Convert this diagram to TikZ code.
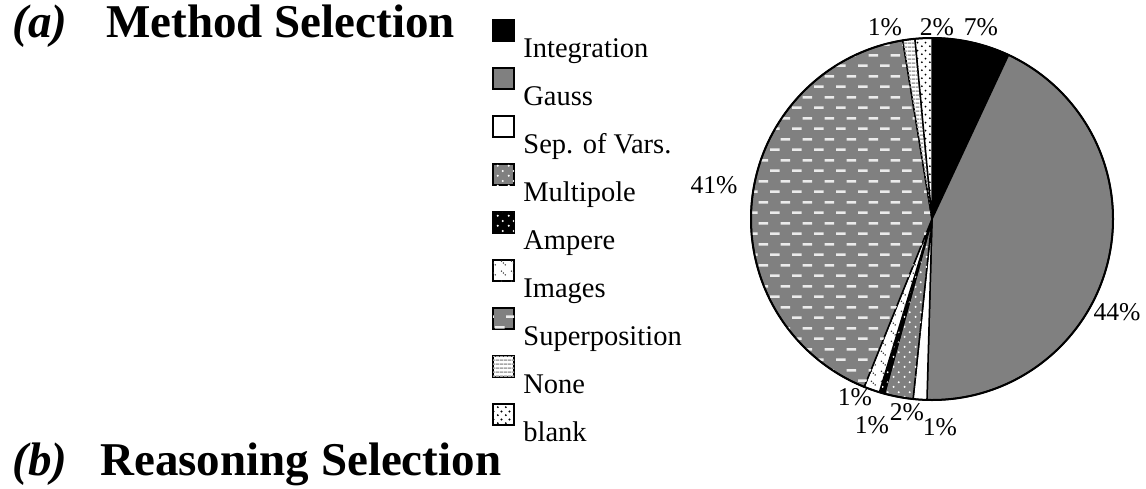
\documentclass[tikz,border=0pt]{standalone}
\usepackage{fontspec}
\setmainfont{Liberation Serif}
\usetikzlibrary{patterns}

\definecolor{midgray}{gray}{0.5}

% fill patterns of the chart
\pgfdeclarepatternformonly{dashrows}{\pgfqpoint{0pt}{0pt}}{\pgfqpoint{11pt}{10.7pt}}{\pgfqpoint{11pt}{10.7pt}}{
  \pgfpathrectangle{\pgfqpoint{0pt}{0pt}}{\pgfqpoint{5pt}{1.3pt}}
  \pgfpathrectangle{\pgfqpoint{5.5pt}{5.35pt}}{\pgfqpoint{5pt}{1.3pt}}
  \pgfusepath{fill}}
\pgfdeclarepatternformonly{sparsedots}{\pgfqpoint{0pt}{0pt}}{\pgfqpoint{5.5pt}{5pt}}{\pgfqpoint{5.5pt}{5pt}}{
  \pgfpathcircle{\pgfqpoint{1.4pt}{1.2pt}}{0.6pt}
  \pgfpathcircle{\pgfqpoint{4.1pt}{3.7pt}}{0.6pt}
  \pgfusepath{fill}}
\pgfdeclarepatternformonly{finedots}{\pgfqpoint{0pt}{0pt}}{\pgfqpoint{4pt}{4pt}}{\pgfqpoint{4pt}{4pt}}{
  \pgfpathcircle{\pgfqpoint{1pt}{1pt}}{0.55pt}
  \pgfpathcircle{\pgfqpoint{3pt}{3pt}}{0.55pt}
  \pgfusepath{fill}}
\pgfdeclarepatternformonly{diagdots}{\pgfqpoint{0pt}{0pt}}{\pgfqpoint{5pt}{5pt}}{\pgfqpoint{5pt}{5pt}}{
  \pgfpathcircle{\pgfqpoint{0.8pt}{4.2pt}}{0.45pt}
  \pgfpathcircle{\pgfqpoint{1.8pt}{3.2pt}}{0.45pt}
  \pgfpathcircle{\pgfqpoint{2.8pt}{2.2pt}}{0.45pt}
  \pgfusepath{fill}}
\pgfdeclarepatternformonly{hstripes}{\pgfqpoint{0pt}{0pt}}{\pgfqpoint{2pt}{2pt}}{\pgfqpoint{2pt}{2pt}}{
  \pgfpathrectangle{\pgfqpoint{0pt}{0pt}}{\pgfqpoint{2pt}{1pt}}
  \pgfusepath{fill}}

\tikzset{
  title/.style={anchor=base west, inner sep=0pt, font=\fontsize{23.5}{28}\selectfont\bfseries},
  legtext/.style={anchor=base west, inner sep=0pt, font=\fontsize{14.25}{17}\selectfont},
  legbox/.style={draw, line width=0.75pt, minimum size=10.5pt, inner sep=0pt},
  pct/.style={anchor=base, inner sep=0pt, font=\fontsize{12.8}{15}\selectfont},
  wedge/.style={draw, line width=0.75pt},
  sInt/.style={fill=black},
  sGauss/.style={fill=midgray},
  sSep/.style={fill=white},
  sMulti/.style={fill=midgray, postaction={pattern=sparsedots, pattern color=white}},
  sAmpere/.style={fill=black, postaction={pattern=sparsedots, pattern color=white}},
  sImages/.style={fill=white, postaction={pattern=diagdots, pattern color=black!80}},
  sSuper/.style={fill=midgray, postaction={pattern=dashrows, pattern color=white!92!black}},
  sNone/.style={fill=white, postaction={pattern=hstripes, pattern color=midgray!70}},
  sBlank/.style={fill=white, postaction={pattern=finedots, pattern color=black}},
}

\begin{document}
\begin{tikzpicture}[x=0.5pt, y=-0.5pt]
  \useasboundingbox (0,0) rectangle (1146,488);

  % titles
  \node[title] (ta) at (12, 37) {\itshape (a)};
  \node[title] (ma) at (106, 37) {Method Selection};
  \node[title] (tb) at (12, 475) {\itshape (b)};
  \node[title] (mb) at (100, 475) {Reasoning Selection};

  % legend
  \node[legbox, sInt]     (kInt)     at (503.5, 30.5) {};
  \node[legbox, sGauss]   (kGauss)   at (503.5, 78.5) {};
  \node[legbox, sSep]     (kSep)     at (503.5, 126.5) {};
  \node[legbox, sMulti]   (kMulti)   at (503.5, 174.5) {};
  \node[legbox, sAmpere]  (kAmpere)  at (503.5, 222.5) {};
  \node[legbox, sImages]  (kImages)  at (503.5, 270.5) {};
  \node[legbox, sSuper]   (kSuper)   at (503.5, 318.5) {};
  \node[legbox, sNone]    (kNone)    at (503.5, 366.5) {};
  \node[legbox, sBlank]   (kBlank)   at (503.5, 414.5) {};

  \node[legtext] (tInt)    at (523, 57)  {Integration};
  \node[legtext] (tGauss)  at (523, 105) {Gauss};
  \node[legtext] (tSep)    at (523, 153) {Sep. of Vars.};
  \node[legtext] (tMulti)  at (523, 201) {Multipole};
  \node[legtext] (tAmpere) at (523, 249) {Ampere};
  \node[legtext] (tImages) at (523, 297) {Images};
  \node[legtext] (tSuper)  at (523, 345) {Superposition};
  \node[legtext] (tNone)   at (523, 393) {None};
  \node[legtext] (tBlank)  at (523, 441) {blank};

  % pie
  \coordinate (pc) at (932, 219);
  \draw[wedge, sInt]    (pc) -- ++(-90:181) arc[start angle=-90, end angle=-65, radius=181] -- cycle;
  \draw[wedge, sGauss]  (pc) -- ++(-65:181) arc[start angle=-65, end angle=91.6, radius=181] -- cycle;
  \draw[wedge, sSep]    (pc) -- ++(91.6:181) arc[start angle=91.6, end angle=96, radius=181] -- cycle;
  \draw[wedge, sMulti]  (pc) -- ++(96:181) arc[start angle=96, end angle=105.2, radius=181] -- cycle;
  \draw[wedge, sAmpere] (pc) -- ++(105.2:181) arc[start angle=105.2, end angle=106.9, radius=181] -- cycle;
  \draw[wedge, sImages] (pc) -- ++(106.9:181) arc[start angle=106.9, end angle=112, radius=181] -- cycle;
  \draw[wedge, sSuper]  (pc) -- ++(112:181) arc[start angle=112, end angle=260.7, radius=181] -- cycle;
  \draw[wedge, sNone]   (pc) -- ++(260.7:181) arc[start angle=260.7, end angle=264.6, radius=181] -- cycle;
  \draw[wedge, sBlank]  (pc) -- ++(264.6:181) arc[start angle=264.6, end angle=270, radius=181] -- cycle;
  \draw[line width=1pt] (pc) circle[radius=181];

  % percentages
  \node[pct] (pInt)    at (981, 35)   {7\%};
  \node[pct] (pBlank)  at (937, 35)   {2\%};
  \node[pct] (pNone)   at (885, 35)   {1\%};
  \node[pct] (pSuper)  at (714, 193)  {41\%};
  \node[pct] (pGauss)  at (1117, 320) {44\%};
  \node[pct] (pImages) at (855, 405)  {1\%};
  \node[pct] (pMulti)  at (907, 420)  {2\%};
  \node[pct] (pAmpere) at (872, 433)  {1\%};
  \node[pct] (pSep)    at (940, 435)  {1\%};
\end{tikzpicture}
\end{document}
